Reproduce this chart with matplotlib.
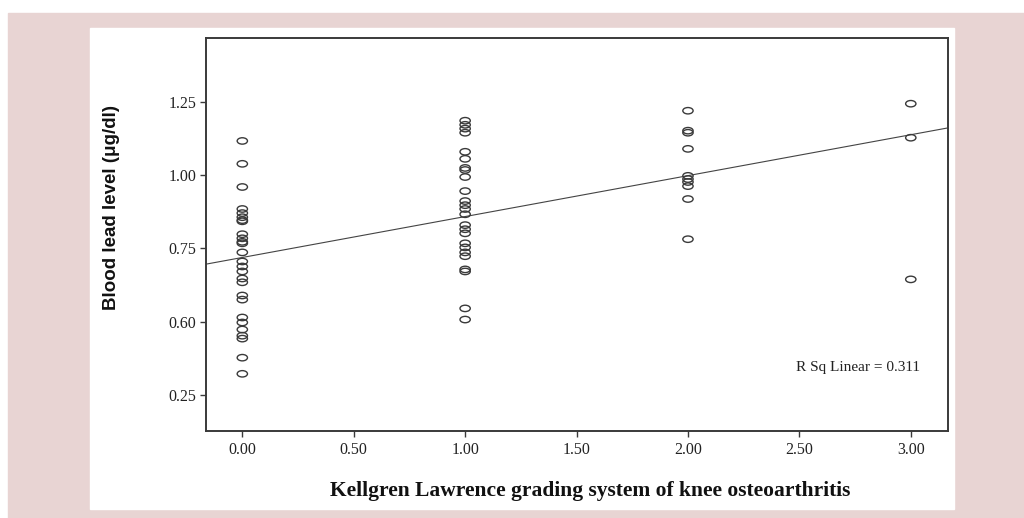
#!/usr/bin/env python3
"""
Blood lead level vs Kellgren Lawrence grade, SPSS style scatter with linear fit.
"""

import numpy as np
import matplotlib
matplotlib.use("Agg")
import matplotlib.pyplot as plt
from matplotlib.path import Path
from matplotlib.patches import Rectangle
from matplotlib.transforms import Affine2D

# ---- data ----
grade_0 = [1.116, 1.038, 0.959, 0.884, 0.870, 0.856, 0.846, 0.842, 0.798, 0.784,
           0.772, 0.767, 0.736, 0.705, 0.688, 0.671, 0.647, 0.634, 0.589, 0.575,
           0.514, 0.497, 0.473, 0.452, 0.442, 0.377, 0.322]
grade_1 = [1.185, 1.171, 1.158, 1.144, 1.079, 1.055, 1.024, 1.017, 0.993, 0.945,
           0.911, 0.897, 0.884, 0.866, 0.829, 0.815, 0.801, 0.767, 0.753, 0.736,
           0.723, 0.678, 0.671, 0.545, 0.507]
grade_2 = [1.219, 1.151, 1.144, 1.089, 0.997, 0.986, 0.976, 0.962, 0.918, 0.781]
grade_3 = [1.243, 1.127, 0.644]

x_ticks = [0.0, 0.5, 1.0, 1.5, 2.0, 2.5, 3.0]
x_ticklabels = ["0.00", "0.50", "1.00", "1.50", "2.00", "2.50", "3.00"]
y_ticks = [0.25, 0.50, 0.75, 1.00, 1.25]
y_ticklabels = ["0.25", "0.60", "0.75", "1.00", "1.25"]   # as printed in the original
r_sq_text = "R Sq Linear = 0.311"

W, H = 1024, 518
PINK = "#e8d4d3"
EDGE = "#3a3a3a"

def main():
    groups = [grade_0, grade_1, grade_2, grade_3]
    xs = np.concatenate([np.full(len(g), i, dtype=float) for i, g in enumerate(groups)])
    ys = np.concatenate([np.asarray(g, dtype=float) for g in groups])

    fig = plt.figure(figsize=(W / 100, H / 100), dpi=100, facecolor="white")

    # pink frame + white panel (pixel coords -> figure fraction)
    def px_rect(x0, y0, x1, y1, color):
        fig.patches.append(Rectangle((x0 / W, 1 - y1 / H), (x1 - x0) / W, (y1 - y0) / H,
                                     transform=fig.transFigure, color=color, zorder=-10))
    px_rect(8, 13, 1024, 518, PINK)
    px_rect(90, 28, 954, 509, "white")

    ax = fig.add_axes([206 / W, 1 - 431 / H, (948 - 206) / W, (431 - 38) / H])
    ax.set_xlim(-0.163, 3.167)
    ax.set_ylim(0.127, 1.467)

    # open ellipse marker
    ell = Path.unit_circle().transformed(Affine2D().scale(1.0, 0.62))
    ax.scatter(xs, ys, marker=ell, s=55, facecolors="none", edgecolors=EDGE,
               linewidths=1.0, zorder=3)

    # linear fit across the full axis width
    slope, intercept = np.polyfit(xs, ys, 1)
    xl = np.array(ax.get_xlim())
    ax.plot(xl, intercept + slope * xl, color="#444444", lw=0.8, zorder=2)

    ax.text(3.04, 0.345, r_sq_text, ha="right", va="center",
            family="Liberation Serif", fontsize=11, color="#222222")

    ax.set_xticks(x_ticks)
    ax.set_xticklabels(x_ticklabels)
    ax.set_yticks(y_ticks)
    ax.set_yticklabels(y_ticklabels)
    for lab in ax.get_xticklabels() + ax.get_yticklabels():
        lab.set_family("Liberation Serif")
        lab.set_fontsize(11.5)
        lab.set_color("#222222")
    ax.tick_params(direction="out", length=4, width=1.0, color=EDGE, pad=3)
    ax.tick_params(axis="x", pad=4)

    for s in ax.spines.values():
        s.set_color(EDGE)
        s.set_linewidth(1.4)

    fig.text(590 / W, 1 - 491 / H, "Kellgren Lawrence grading system of knee osteoarthritis",
             ha="center", va="center", family="Liberation Serif", weight="bold",
             fontsize=15.5, color="#111111")
    fig.text(112 / W, 1 - 207 / H, "Blood lead level (\u03bcg/dl)", rotation=90,
             ha="center", va="center", family="Liberation Sans", weight="bold",
             fontsize=13.5, color="#111111")

    fig.savefig("out.png", dpi=100, facecolor="white")
    print(f"fit: intercept={intercept:.3f} slope={slope:.3f}")

if __name__ == "__main__":
    main()
